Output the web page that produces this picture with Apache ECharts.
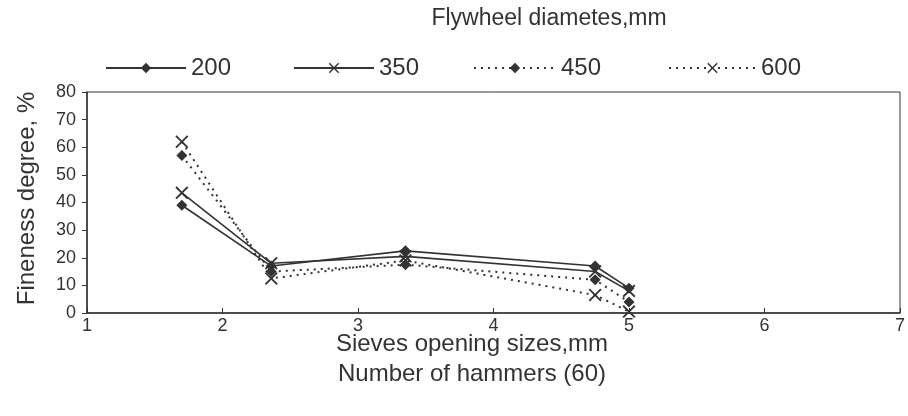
<!DOCTYPE html>
<html>
<head>
<meta charset="utf-8">
<script src="https://cdn.jsdelivr.net/npm/echarts@6/dist/echarts.min.js"></script>
<style>html,body{margin:0;padding:0;background:#fff}#c{width:908px;height:416px}</style>
</head>
<body>
<div id="c"></div>
<script>
var sieveSizes = [1.7, 2.36, 3.35, 4.75, 5.0];
var seriesNames = ['200', '350', '450', '600'];
var d200 = [39, 17, 22.5, 17, 9];
var d350 = [43.5, 18, 20.5, 15, 8];
var d450 = [57, 15, 17.5, 12, 4];
var d600 = [62, 12.5, 19, 6.5, 0.5];
var xTicks = [1, 2, 3, 4, 5, 6, 7];
var yTicks = [0, 10, 20, 30, 40, 50, 60, 70, 80];

var FONT = 'Liberation Sans, Arial, sans-serif';
var INK = '#333';
var XPATH = 'path://M0,1 L1,0 L5,4 L9,0 L10,1 L6,5 L10,9 L9,10 L5,6 L1,10 L0,9 L4,5 Z';

function pairs(vals) { return sieveSizes.map(function (x, i) { return [x, vals[i]]; }); }
function mk(name, vals, symbol, size, dotted) {
  return {
    name: name, type: 'line', data: pairs(vals), symbol: symbol, symbolSize: size,
    lineStyle: { color: INK, width: dotted ? 2 : 1.6, type: dotted ? [2, 5] : 'solid' },
    itemStyle: { color: INK },
    emphasis: { disabled: true }, animation: false
  };
}
var legendLefts = [100, 288, 468, 663];
var legendWidths = [80, 80, 82, 87];
var legends = seriesNames.map(function (n, i) {
  return {
    left: legendLefts[i], top: 51, itemWidth: legendWidths[i], itemHeight: 13,
    data: [n], selectedMode: false,
    textStyle: { fontFamily: FONT, fontSize: 24, color: INK }
  };
});

var chart = echarts.init(document.getElementById('c'));
chart.setOption({
  backgroundColor: '#fff',
  animation: false,
  title: {
    text: 'Flywheel diametes,mm', left: 544, top: 2, textAlign: 'center',
    textStyle: { fontFamily: FONT, fontSize: 23, fontWeight: 'normal', color: INK }
  },
  legend: legends,
  grid: { left: 87, right: 6, top: 92, bottom: 103, show: true, borderColor: INK, borderWidth: 1 },
  xAxis: {
    type: 'value', min: xTicks[0], max: xTicks[xTicks.length - 1], interval: 1,
    name: 'Sieves opening sizes,mm\nNumber of hammers (60)', nameLocation: 'middle', nameGap: 16,
    nameMoveOverlap: false,
    nameTextStyle: { fontFamily: FONT, fontSize: 24, color: INK, lineHeight: 30, padding: [0, 43, 0, 0], verticalAlign: 'top' },
    axisLine: { lineStyle: { color: INK, width: 1.5 } },
    axisTick: { inside: true, length: 5, lineStyle: { color: INK } },
    axisLabel: { fontFamily: FONT, fontSize: 18, color: INK, margin: 4 },
    splitLine: { show: false }
  },
  yAxis: {
    type: 'value', min: yTicks[0], max: yTicks[yTicks.length - 1], interval: 10,
    name: 'Fineness degree, %', nameLocation: 'middle', nameGap: 48,
    nameTextStyle: { fontFamily: FONT, fontSize: 24, color: INK, padding: [0, 0, 0, 8] },
    axisLine: { show: true, lineStyle: { color: INK, width: 1.5 } },
    axisTick: { show: true, length: 5, lineStyle: { color: INK } },
    axisLabel: { fontFamily: FONT, fontSize: 18, color: INK, margin: 11 },
    splitLine: { show: false }
  },
  series: [
    mk('200', d200, 'diamond', 11, false),
    mk('350', d350, XPATH, 13, false),
    mk('450', d450, 'diamond', 11, true),
    mk('600', d600, XPATH, 13, true)
  ]
});
</script>
</body>
</html>
